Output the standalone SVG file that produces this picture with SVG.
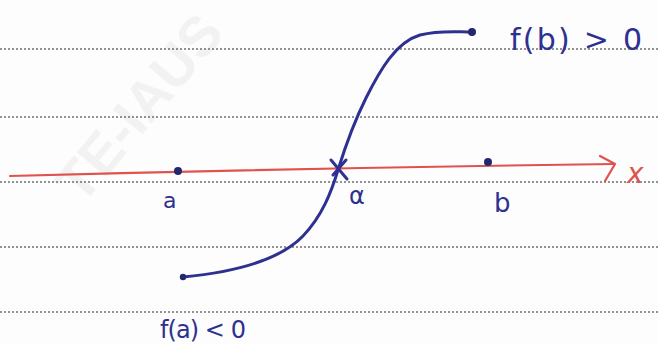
<svg xmlns="http://www.w3.org/2000/svg" width="658" height="345" viewBox="0 0 658 345">
<style>
.rule{stroke:#6f6f6f;stroke-width:1.6;stroke-dasharray:2 2;fill:none}
.blue{stroke:#2e3190;stroke-width:3;fill:none;stroke-linecap:round;stroke-linejoin:round}
.red{stroke:#e0524e;stroke-width:2.2;fill:none;stroke-linecap:round;stroke-linejoin:round}
.dot{fill:#23286e}
.lbl{font-family:"DejaVu Sans","Liberation Sans",sans-serif;fill:#2e3190}
.wm{font-family:"Liberation Sans",sans-serif;font-weight:bold;fill:#f2f2f2}
</style>
<rect width="658" height="345" fill="#fdfdfd"/>
<text class="wm" x="0" y="0" font-size="56" transform="translate(82,206) rotate(-50)">TE-IAUS</text>
<g id="rules">
<line class="rule" x1="0" y1="49" x2="658" y2="49"/>
<line class="rule" x1="0" y1="117" x2="658" y2="117"/>
<line class="rule" x1="0" y1="182" x2="658" y2="182"/>
<line class="rule" x1="0" y1="247" x2="658" y2="247"/>
<line class="rule" x1="0" y1="312" x2="658" y2="312"/>
</g>
<g id="axis">
<path class="red" d="M10,176 Q311,168 614,164"/>
<path class="red" d="M600,156 L615,164 L605,181"/>
<text x="627" y="183" font-family="DejaVu Sans,sans-serif" font-size="28" fill="#e0524e" font-style="italic">x</text>
</g>
<g id="connectors">
<path class="blue" d="M183,277 C235,272 280,260 303,236 C322,216 331,193 338,170 C347,141 355,120 366,98 C380,70 396,42 420,35 C440,30 456,32 472,32"/>
<path class="blue" d="M331,160 L347,179 M346,160 L333,175"/>
</g>
<g id="point-a">
<circle class="dot" cx="178" cy="171" r="4"/>
<text class="lbl" x="163" y="208" font-size="22">a</text>
</g>
<g id="point-alpha">
<text class="lbl" x="349" y="204" font-size="24">α</text>
</g>
<g id="point-b">
<circle class="dot" cx="488" cy="162" r="4"/>
<text class="lbl" x="494" y="212" font-size="26">b</text>
</g>
<g id="fb">
<circle class="dot" cx="472" cy="32" r="4"/>
<text class="lbl" x="510" y="50" font-size="30" textLength="132" lengthAdjust="spacing">f(b) &gt; 0</text>
</g>
<g id="fa">
<circle class="dot" cx="183" cy="277" r="3.2"/>
<text class="lbl" x="160" y="338" font-size="24" textLength="86" lengthAdjust="spacing">f(a) &lt; 0</text>
</g>
</svg>
